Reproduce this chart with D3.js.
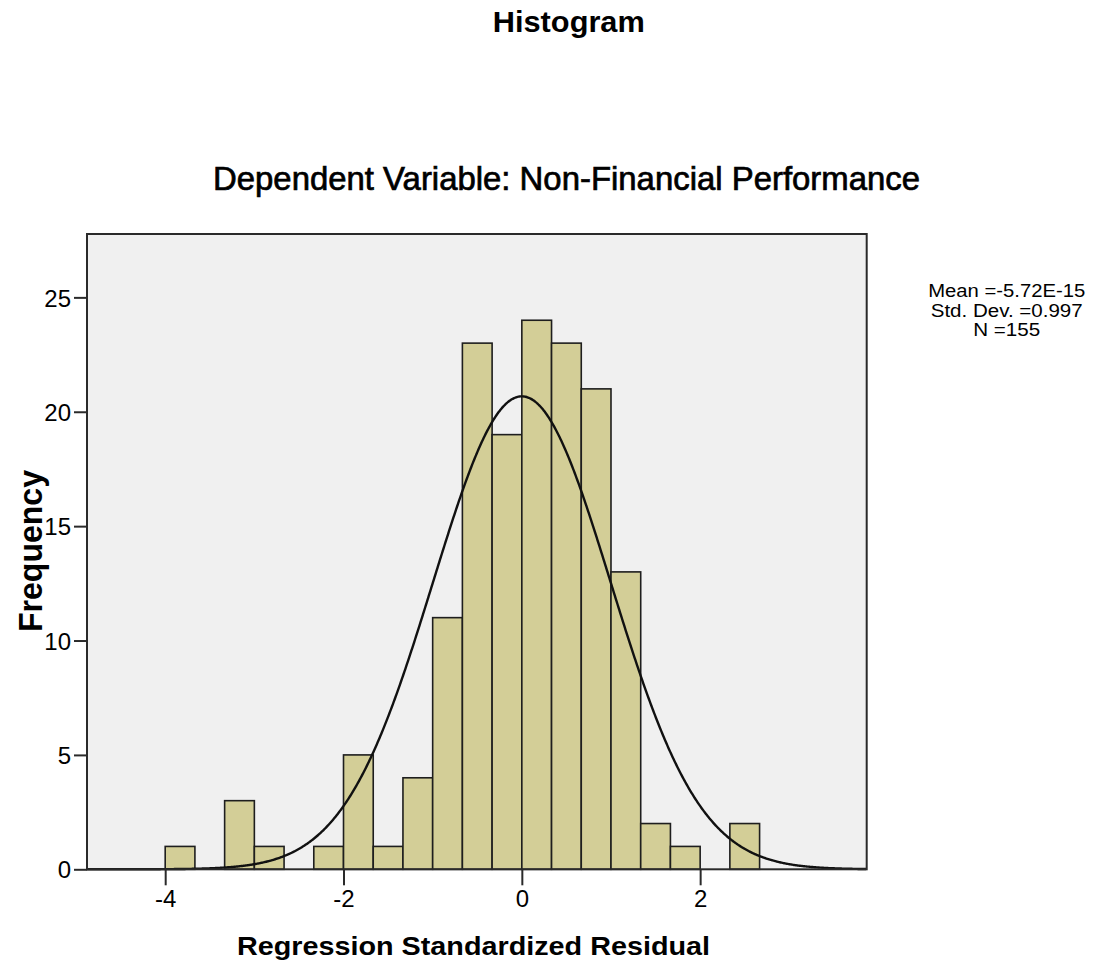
<!DOCTYPE html>
<html>
<head>
<meta charset="utf-8">
<script src="https://cdn.jsdelivr.net/npm/d3@7"></script>
<style>
  html, body { margin: 0; padding: 0; background: #fff; }
  svg { display: block; }
  text { font-family: "Liberation Sans", Arial, sans-serif; fill: #000; }
  .tick-label { font-family: "Liberation Sans Narrow", "Liberation Sans", Arial, sans-serif; }
</style>
</head>
<body>
<svg id="chart" width="1096" height="973"></svg>
<script>
// Histogram bins: lower edge of the first bin, bin width, frequency per bin
const binStart = -4;
const binWidth = 1 / 3;
const binCounts = [1, 0, 3, 1, 0, 1, 5, 1, 4, 11, 23, 19, 24, 23, 21, 13, 2, 1, 0, 2];

// Summary statistics of the residuals
const statMean = -5.72e-15;
const statSD = 0.997;
const statN = 155;
const statLines = ["Mean =-5.72E-15", "Std. Dev. =0.997", "N =155"];
const statWidths = [157, 152, 67];

// Axis ticks and texts
const xTicks = [-4, -2, 0, 2];
const yTicks = [0, 5, 10, 15, 20, 25];
const xDomain = [-4.877, 3.868];
const yDomain = [0, 27.77];
const titleText = "Histogram";
const subtitleText = "Dependent Variable: Non-Financial Performance";
const xLabel = "Regression Standardized Residual";
const yLabel = "Frequency";

const svg = d3.select("#chart");
const plot = { left: 87, right: 866.7, top: 234, bottom: 869.3 };

const x = d3.scaleLinear().domain(xDomain).range([plot.left, plot.right]);
const y = d3.scaleLinear().domain(yDomain).range([plot.bottom, plot.top]);

// Plot background
svg.append("rect")
  .attr("x", plot.left).attr("y", plot.top)
  .attr("width", plot.right - plot.left).attr("height", plot.bottom - plot.top)
  .attr("fill", "#f0f0f0");

// Bars
const bins = binCounts.map((c, i) => ({
  x0: binStart + i * binWidth,
  x1: binStart + (i + 1) * binWidth,
  count: c
})).filter(d => d.count > 0);

svg.append("g").selectAll("rect").data(bins).join("rect")
  .attr("x", d => x(d.x0))
  .attr("y", d => y(d.count))
  .attr("width", d => x(d.x1) - x(d.x0))
  .attr("height", d => y(0) - y(d.count))
  .attr("fill", "#d3ce97")
  .attr("stroke", "#1e1e1e")
  .attr("stroke-width", 1.6);

// Normal curve scaled to the histogram
const pdf = v => Math.exp(-0.5 * Math.pow((v - statMean) / statSD, 2)) / (statSD * Math.sqrt(2 * Math.PI));
const curvePts = d3.range(xDomain[0], xDomain[1] + 0.001, 0.01).map(v => [v, statN * binWidth * pdf(v)]);
svg.append("path")
  .datum(curvePts)
  .attr("fill", "none")
  .attr("stroke", "#111")
  .attr("stroke-width", 2.4)
  .attr("d", d3.line().x(d => x(d[0])).y(d => y(d[1])).curve(d3.curveBasis));

// Frame
svg.append("rect")
  .attr("x", plot.left).attr("y", plot.top)
  .attr("width", plot.right - plot.left).attr("height", plot.bottom - plot.top)
  .attr("fill", "none")
  .attr("stroke", "#2a2a2a")
  .attr("stroke-width", 2);

// Axes (the frame serves as the axis lines)
const fmt = d => String(d);
const xAxis = svg.append("g")
  .attr("transform", `translate(0,${plot.bottom})`)
  .call(d3.axisBottom(x).tickValues(xTicks).tickSize(16).tickSizeOuter(0).tickPadding(5).tickFormat(fmt));
const yAxis = svg.append("g")
  .attr("transform", `translate(${plot.left},0)`)
  .call(d3.axisLeft(y).tickValues(yTicks).tickSize(13).tickSizeOuter(0).tickPadding(3).tickFormat(fmt));

[xAxis, yAxis].forEach(g => {
  g.select(".domain").remove();
  g.selectAll(".tick line").attr("stroke", "#2a2a2a").attr("stroke-width", 2);
  g.selectAll(".tick text")
    .attr("class", "tick-label")
    .attr("fill", "#000")
    .style("font-size", "24px");
});
yAxis.selectAll(".tick text").attr("dy", "0.36em");

// Titles
svg.append("text")
  .attr("x", 568.8).attr("y", 31.7)
  .attr("text-anchor", "middle")
  .attr("font-weight", "bold")
  .style("font-size", "29px")
  .attr("textLength", 152).attr("lengthAdjust", "spacingAndGlyphs")
  .text(titleText);

svg.append("text")
  .attr("x", 566.5).attr("y", 190)
  .attr("text-anchor", "middle")
  .style("font-size", "32.5px")
  .attr("stroke", "#000").attr("stroke-width", 0.7)
  .attr("textLength", 707).attr("lengthAdjust", "spacingAndGlyphs")
  .text(subtitleText);

// Axis titles
svg.append("text")
  .attr("x", 473.5).attr("y", 955)
  .attr("text-anchor", "middle")
  .attr("font-weight", "bold")
  .style("font-size", "25px")
  .attr("textLength", 473).attr("lengthAdjust", "spacingAndGlyphs")
  .text(xLabel);

svg.append("text")
  .attr("transform", `translate(41.5,551) rotate(-90)`)
  .attr("text-anchor", "middle")
  .attr("font-weight", "bold")
  .style("font-size", "33px")
  .attr("textLength", 162).attr("lengthAdjust", "spacingAndGlyphs")
  .text(yLabel);

// Statistics box
svg.append("g").selectAll("text").data(statLines).join("text")
  .attr("x", 1006.7)
  .attr("y", (d, i) => 297 + i * 19.5)
  .attr("text-anchor", "middle")
  .style("font-size", "17.5px")
  .attr("textLength", (d, i) => statWidths[i]).attr("lengthAdjust", "spacingAndGlyphs")
  .text(d => d);
</script>
</body>
</html>
